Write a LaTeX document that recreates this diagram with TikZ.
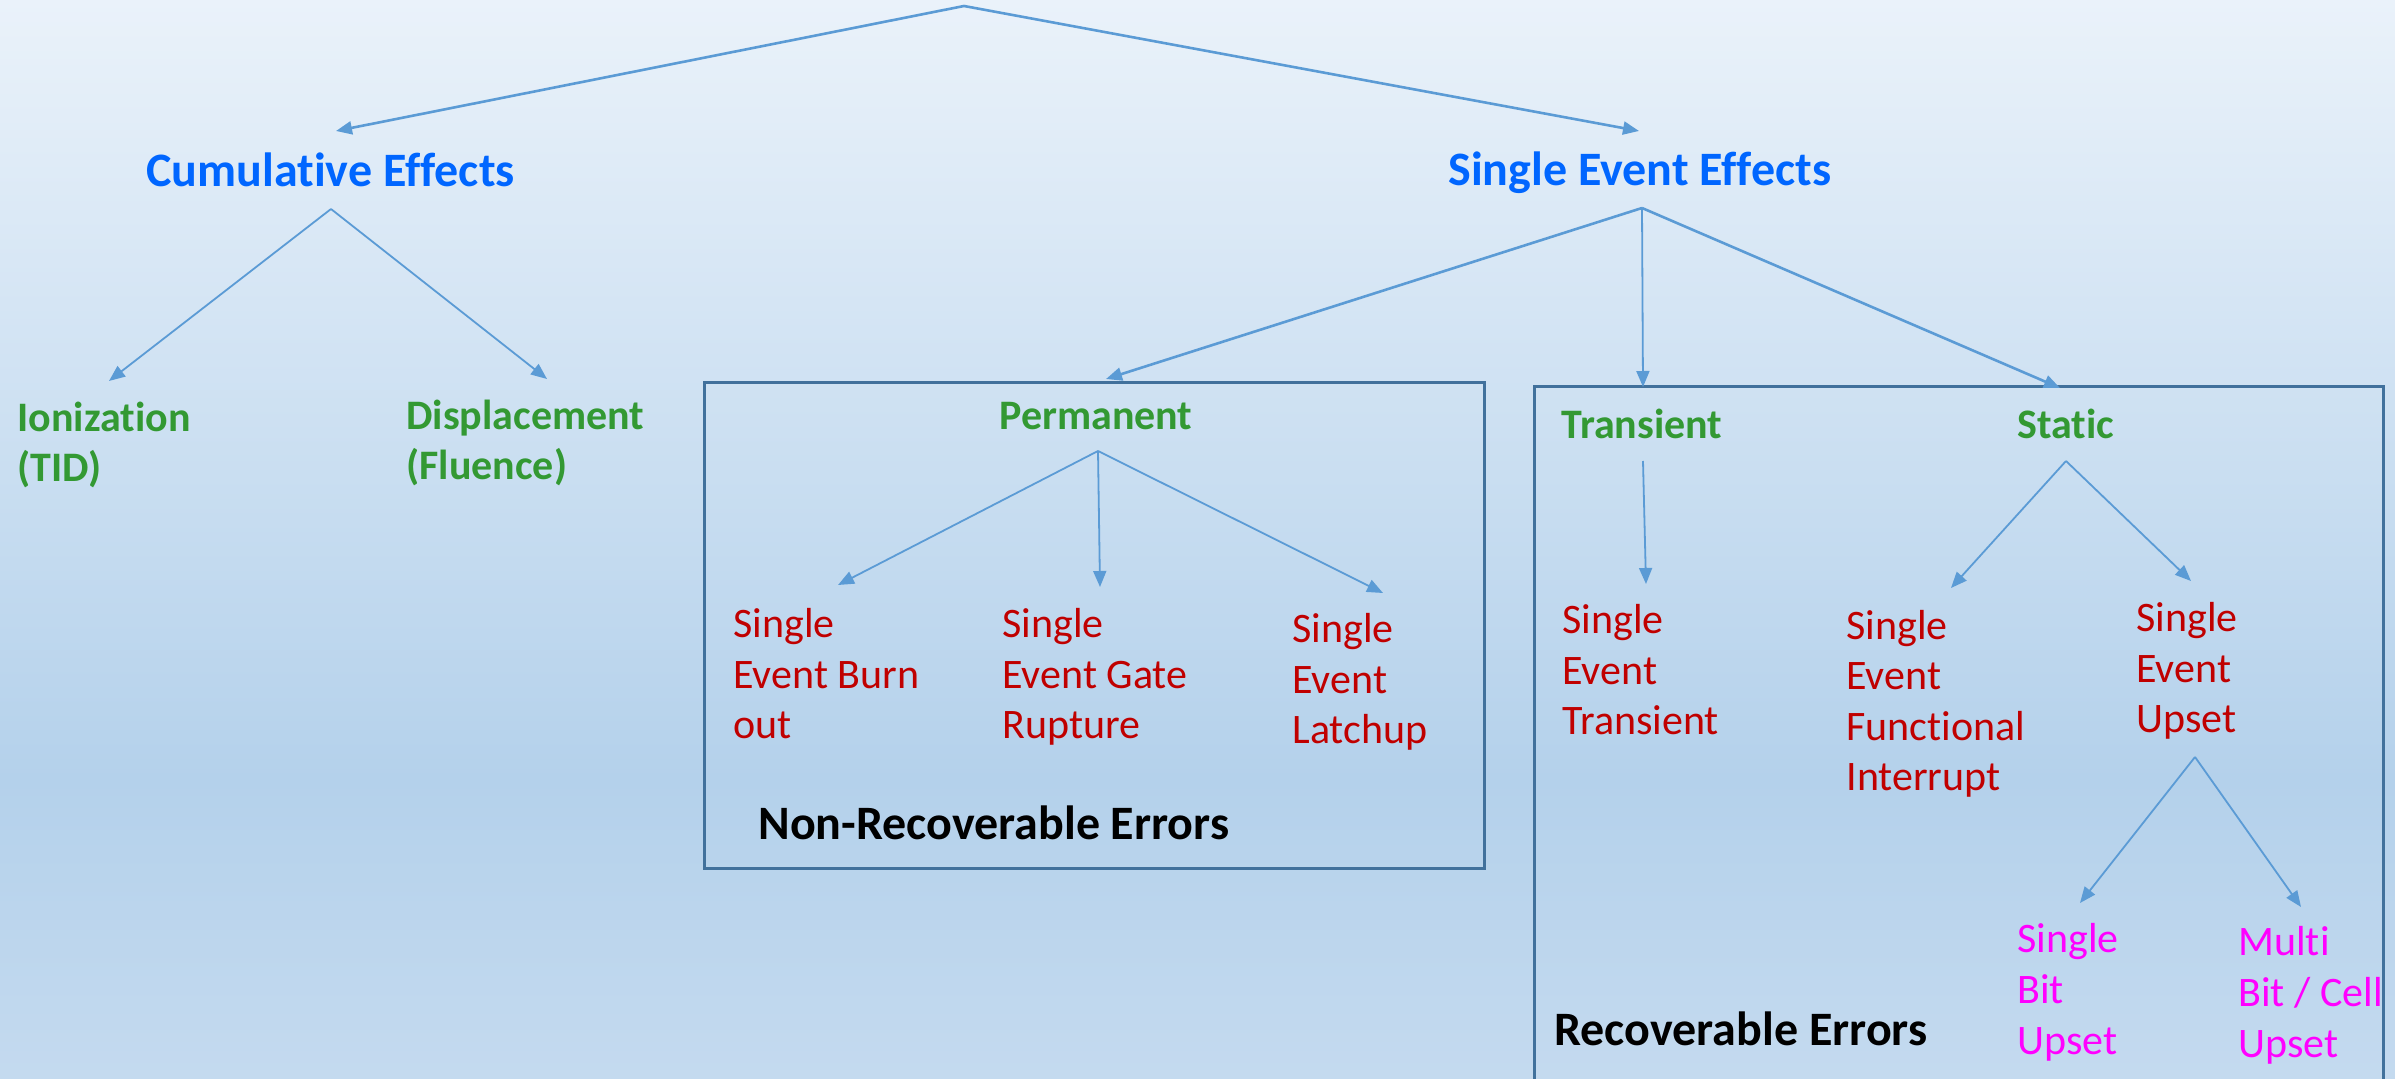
\documentclass[tikz,border=0pt]{standalone}
\usepackage{fontspec}
\setmainfont{Carlito}[Ligatures=NoCommon]
\usetikzlibrary{arrows.meta}
\definecolor{bgtop}{HTML}{EAF2FA}
\definecolor{bgmid}{HTML}{B4D1EB}
\definecolor{bgbot}{HTML}{C4DAEF}
\definecolor{arrowblue}{HTML}{5B9BD5}
\definecolor{boxblue}{HTML}{41719C}
\definecolor{headblue}{HTML}{0066FF}
\definecolor{catgreen}{HTML}{339933}
\definecolor{errred}{HTML}{C00000}
\definecolor{bitpink}{HTML}{FF00FF}
\begin{document}
\begin{tikzpicture}[x=0.5pt,y=-0.5pt,
  conn/.style={draw=arrowblue, line width=1.3pt, -{Triangle[length=8pt,width=6.5pt]}},
  thinconn/.style={conn, line width=0.9pt},
  lbl/.style={anchor=base west, inner sep=0pt, align=left},
  head/.style={lbl, text=headblue, font=\fontsize{24}{25}\selectfont\bfseries},
  cat/.style={lbl, text=catgreen, font=\fontsize{21}{25}\selectfont\bfseries},
  err/.style={lbl, text=errred, font=\fontsize{21}{25.3}\selectfont},
  bit/.style={lbl, text=bitpink, font=\fontsize{21}{25.5}\selectfont},
  grp/.style={draw=boxblue, line width=1.5pt},
  grplabel/.style={lbl, text=black, font=\fontsize{24}{25}\selectfont\bfseries}
]
\useasboundingbox (0,0) rectangle (2395,1079);
\clip (0,0) rectangle (2395,1079);
% background
\shade[top color=bgtop, bottom color=bgmid] (0,0) rectangle (2395,780);
\shade[top color=bgmid, bottom color=bgbot] (0,779) rectangle (2395,1079);

% group boxes
\draw[grp] (704,383) rectangle (1484,868);
\draw[grp] (1534,387) rectangle (2383,1120);

% labels (anchor = baseline of the last line)
\node[head] (ce) at (146,187) {Cumulative Effects};
\node[head] (see) at (1448,186) {Single Event Effects};
\node[cat] (ion) at (17,482) {Ionization\\(TID)};
\node[cat] (disp) at (406,480) {Displacement\\(Fluence)};
\node[cat] (perm) at (999,430) {Permanent};
\node[cat] (trans) at (1561,439) {Transient};
\node[cat] (stat) at (2017,439) {Static};
\node[err] (sebo) at (733,739) {Single\\Event Burn\\out};
\node[err] (segr) at (1002,739) {Single\\Event Gate\\Rupture};
\node[err] (sel) at (1292,744) {Single\\Event\\Latchup};
\node[err] (set) at (1562,735) {Single\\Event\\Transient};
\node[err] (sefi) at (1846,791) {Single\\Event\\Functional\\Interrupt};
\node[err] (seu) at (2136,733) {Single\\Event\\Upset};
\node[bit] (sbu) at (2017,1054) {Single\\Bit\\Upset};
\node[bit] (mbu) at (2238,1057) {Multi\\Bit / Cell\\Upset};
\node[grplabel] (nre) at (758,840) {Non-Recoverable Errors};
\node[grplabel] (re) at (1554,1045) {Recoverable Errors};

% connector coordinates
\coordinate (root) at (964,6);
\coordinate (ceTip) at (336,131);
\coordinate (seeTip) at (1639,131);
\coordinate (ceApex) at (331,209);
\coordinate (ionTip) at (109,381);
\coordinate (dispTip) at (547,379);
\coordinate (seeApex) at (1642,208);
\coordinate (permTip) at (1106,379);
\coordinate (transTip) at (1643,387);
\coordinate (statTip) at (2060,388);
\coordinate (permApex) at (1098,451);
\coordinate (seboTip) at (838,585);
\coordinate (segrTip) at (1100,587);
\coordinate (selTip) at (1383,593);
\coordinate (transStart) at (1643,461);
\coordinate (setTip) at (1646,584);
\coordinate (statApex) at (2066,461);
\coordinate (sefiTip) at (1951,588);
\coordinate (seuTip) at (2191,581);
\coordinate (seuApex) at (2195,757);
\coordinate (sbuTip) at (2080,903);
\coordinate (mbuTip) at (2301,907);

% connectors
\draw[conn] (root) -- (ceTip);
\draw[conn] (root) -- (seeTip);
\draw[thinconn] (ceApex) -- (ionTip);
\draw[thinconn] (ceApex) -- (dispTip);
\draw[conn] (seeApex) -- (permTip);
\draw[thinconn] (seeApex) -- (transTip);
\draw[conn] (seeApex) -- (statTip);
\draw[thinconn] (permApex) -- (seboTip);
\draw[thinconn] (permApex) -- (segrTip);
\draw[thinconn] (permApex) -- (selTip);
\draw[thinconn] (transStart) -- (setTip);
\draw[thinconn] (statApex) -- (sefiTip);
\draw[thinconn] (statApex) -- (seuTip);
\draw[thinconn] (seuApex) -- (sbuTip);
\draw[thinconn] (seuApex) -- (mbuTip);
\end{tikzpicture}
\end{document}
